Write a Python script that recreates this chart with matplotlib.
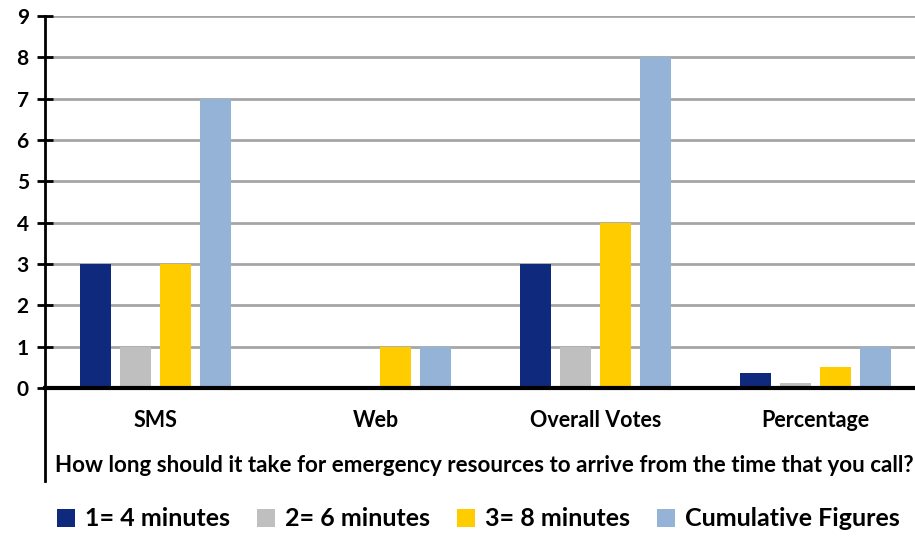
import matplotlib
matplotlib.use("Agg")
import matplotlib.pyplot as plt
import numpy as np

categories = ["SMS", "Web", "Overall Votes", "Percentage"]
series_names = ["1= 4 minutes", "2= 6 minutes", "3= 8 minutes", "Cumulative Figures"]
s1 = [3, 0, 3, 0.375]
s2 = [1, 0, 1, 0.125]
s3 = [3, 1, 4, 0.5]
s4 = [7, 1, 8, 1]
colors = ["#0F2A7C", "#BFBFBF", "#FFCC00", "#95B3D7"]
yticks = list(range(0, 10))
xlabel = "How long should it take for emergency resources to arrive from the time that you call?"

plt.rcParams['font.family'] = ['Lato', 'DejaVu Sans']
plt.rcParams['font.weight'] = 'bold'

fig = plt.figure(figsize=(9.15, 5.38), dpi=100)
ax = fig.add_axes([0.0497, 0.2788, 0.9617, 0.6915])

x = np.arange(len(categories))
width = 0.141
step = 0.182
for i, (vals, name, c) in enumerate(zip([s1, s2, s3, s4], series_names, colors)):
    ax.bar(x + (i - 1.5) * step, vals, width, color=c, label=name, zorder=3)

ax.set_xlim(-0.5, 3.5)
ax.set_ylim(0, 9)
ax.set_yticks(yticks)
ax.set_yticklabels([str(t) for t in yticks], fontsize=15, fontweight='bold')
ax.yaxis.grid(True, color="#A6A6A6", linewidth=2, zorder=0)
ax.set_xticks(x)
ax.set_xticklabels(categories, fontsize=15.5, fontweight='bold')
ax.tick_params(axis='x', length=0, pad=16)
ax.tick_params(axis='y', direction='inout', length=12, width=2, pad=6)

for s in ['top', 'right']:
    ax.spines[s].set_visible(False)
ax.spines['bottom'].set_linewidth(3)
ax.spines['bottom'].set_zorder(4)
ax.spines['left'].set_visible(False)
ax.plot([0, 0], [-0.25, 1.0], transform=ax.transAxes, color='black',
        linewidth=2, clip_on=False, zorder=5)

fig.text(0.5295, (538 - 466) / 538, xlabel, ha='center', va='center',
         fontsize=16.1, fontweight='bold')

fig.legend(loc='center', bbox_to_anchor=(0.523, (538 - 519) / 538), ncol=4,
           frameon=False, prop={'weight': 'bold', 'size': 18},
           handlelength=0.7, handleheight=0.7, handletextpad=0.4, columnspacing=1.1)

fig.savefig("out.png", dpi=100)
